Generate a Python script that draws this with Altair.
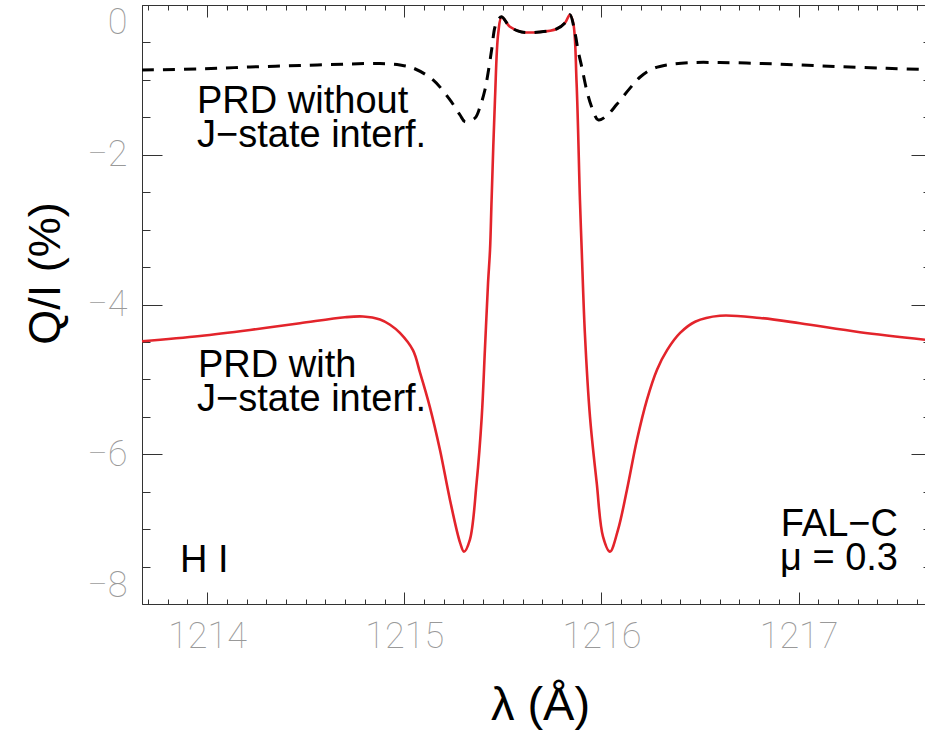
import altair as alt
import pandas as pd

# ---- data ----
# PRD with J-state interference (red, solid)
red_wl = [1213.670, 1213.964, 1214.218, 1214.471, 1214.699, 1214.791, 1214.877, 1214.928,
          1214.978, 1215.044, 1215.080, 1215.130, 1215.181, 1215.232, 1215.283, 1215.303,
          1215.333, 1215.367, 1215.393, 1215.409, 1215.425, 1215.435, 1215.443, 1215.460,
          1215.477, 1215.494, 1215.536, 1215.595, 1215.688, 1215.773, 1215.815, 1215.840,
          1215.857, 1215.874, 1215.891, 1215.900, 1215.916, 1215.942, 1215.976, 1216.008,
          1216.043, 1216.084, 1216.129, 1216.180, 1216.231, 1216.282, 1216.333, 1216.399,
          1216.475, 1216.601, 1216.804, 1217.007, 1217.311, 1217.641]
red_q = [-4.49, -4.42, -4.34, -4.25, -4.17, -4.16, -4.20, -4.27,
         -4.38, -4.61, -4.91, -5.37, -5.94, -6.61, -7.18, -7.30,
         -7.14, -6.38, -5.50, -4.61, -3.71, -3.27, -2.60, -1.27,
         -0.37, -0.16, -0.29, -0.36, -0.36, -0.32, -0.24, -0.13,
         -0.24, -1.04, -2.60, -3.27, -4.38, -5.50, -6.38, -7.10,
         -7.30, -7.01, -6.48, -5.81, -5.27, -4.87, -4.61, -4.38,
         -4.23, -4.15, -4.18, -4.25, -4.37, -4.47]

# PRD without J-state interference (black, dashed)
black_wl = [1213.670, 1213.964, 1214.218, 1214.471, 1214.725, 1214.877, 1214.978, 1215.044,
            1215.146, 1215.232, 1215.283, 1215.308, 1215.359, 1215.384, 1215.409, 1215.425,
            1215.443, 1215.460, 1215.475, 1215.494, 1215.536, 1215.595, 1215.688, 1215.773,
            1215.815, 1215.840, 1215.866, 1215.881, 1215.900, 1215.925, 1215.950, 1215.984,
            1216.026, 1216.077, 1216.145, 1216.195, 1216.261, 1216.331, 1216.449, 1216.601,
            1216.804, 1217.007, 1217.210, 1217.446, 1217.641]
black_q = [-0.868, -0.854, -0.828, -0.808, -0.788, -0.781, -0.801, -0.841,
           -1.001, -1.268, -1.469, -1.558, -1.509, -1.362, -1.135, -0.908,
           -0.601, -0.294, -0.200, -0.156, -0.29, -0.36, -0.36, -0.32,
           -0.24, -0.13, -0.374, -0.601, -0.824, -1.135, -1.358, -1.535,
           -1.481, -1.330, -1.110, -0.965, -0.851, -0.801, -0.770, -0.768,
           -0.781, -0.801, -0.824, -0.845, -0.862]

# annotations
left_text = ["PRD without", "J\u2212state interf.", "PRD with", "J\u2212state interf.", "H I"]
left_text_x = [1213.949, 1213.949, 1213.954, 1213.949, 1213.863]
left_text_y = [-1.442, -1.896, -4.967, -5.421, -7.570]
right_text = ["FAL\u2212C", "\u03bc = 0.3"]
right_text_x = [1217.504, 1217.504]
right_text_y = [-7.090, -7.543]

# tick values
x_major = [1214, 1215, 1216, 1217]
x_minor = [round(1213.7 + 0.1 * i, 1) for i in range(40)]
y_major = [-8, -6, -4, -2, 0]
y_minor = [-8 + 0.5 * i for i in range(17)]

x_domain = [1213.67, 1217.641]
y_domain = [-8, 0]

red = pd.DataFrame({"wl": red_wl, "q": red_q})
black = pd.DataFrame({"wl": black_wl, "q": black_q})
ltxt = pd.DataFrame({"wl": left_text_x, "q": left_text_y, "t": left_text})
rtxt = pd.DataFrame({"wl": right_text_x, "q": right_text_y, "t": right_text})

xs = alt.Scale(domain=x_domain, nice=False, zero=False)
ys = alt.Scale(domain=y_domain, nice=False, zero=False)

FRAME = "#333333"
LABC = "#999999"
LABF = "Roboto"


def xaxis(orient, values, size, domain, labels=False, title=None, **kw):
    return alt.Axis(orient=orient, values=values, tickSize={"expr": str(-size)},
                    tickColor=FRAME, tickWidth=1, domain=domain, domainColor=FRAME,
                    domainWidth=1, labels=labels, grid=False, title=title, **kw)


x_bottom_major = xaxis("bottom", x_major, 12, True, labels=True, title="\u03bb (\u00c5)",
                       labelFont=LABF, labelFontSize=36, labelFontWeight=100, labelColor=LABC,
                       labelPadding=27, format="d",
                       titleFont="Liberation Sans", titleFontSize=47, titleFontWeight="normal",
                       titleColor="black", titleX=398, titleY=101, titleAlign="center",
                       titleBaseline="middle")
x_bottom_minor = xaxis("bottom", x_minor, 5, False)
x_top_major = xaxis("top", x_major, 12, True)
x_top_minor = xaxis("top", x_minor, 5, False)

y_left_major = xaxis("left", y_major, 20, True, labels=True, title="Q/I (%)",
                     labelFont=LABF, labelFontSize=36, labelFontWeight=100, labelColor=LABC,
                     labelPadding=35, labelFlush=True, format="d",
                     titleFont="Liberation Sans", titleFontSize=45, titleFontWeight="normal",
                     titleColor="black", titleX=-97, titleY=268, titleAngle=-90,
                     titleAlign="center", titleBaseline="middle")
y_left_minor = xaxis("left", y_minor, 8, False)
y_right_major = xaxis("right", y_major, 20, False, offset=6)
y_right_minor = xaxis("right", y_minor, 8, False, offset=6)

red_line = alt.Chart(red).mark_line(color="#e3242b", strokeWidth=2.6, interpolate="catmull-rom").encode(
    x=alt.X("wl:Q", scale=xs, axis=x_bottom_major),
    y=alt.Y("q:Q", scale=ys, axis=y_left_major),
    order="wl:Q",
)

black_line = alt.Chart(black).mark_line(color="black", strokeWidth=3, strokeDash=[12, 9],
                                        interpolate="catmull-rom").encode(
    x=alt.X("wl:Q", scale=xs, axis=x_bottom_minor),
    y=alt.Y("q:Q", scale=ys, axis=y_left_minor),
    order="wl:Q",
)

left_labels = alt.Chart(ltxt).mark_text(align="left", baseline="alphabetic",
                                        font="Liberation Sans", fontSize=38, color="black").encode(
    x=alt.X("wl:Q", scale=xs, axis=x_top_major),
    y=alt.Y("q:Q", scale=ys, axis=y_right_major),
    text="t:N",
)

right_labels = alt.Chart(rtxt).mark_text(align="right", baseline="alphabetic",
                                         font="Liberation Sans", fontSize=38, color="black").encode(
    x=alt.X("wl:Q", scale=xs, axis=x_top_minor),
    y=alt.Y("q:Q", scale=ys, axis=y_right_minor),
    text="t:N",
)

chart = alt.layer(red_line, black_line, left_labels, right_labels).resolve_axis(
    x="independent", y="independent"
).properties(
    width=783,
    height=599,
    autosize=alt.AutoSizeParams(type="none"),
    padding={"left": 142, "top": 5, "right": 0, "bottom": 127},
    background="white",
).configure_view(strokeWidth=0)

chart.save("out.html", embed_options={"renderer": "svg", "actions": False})
